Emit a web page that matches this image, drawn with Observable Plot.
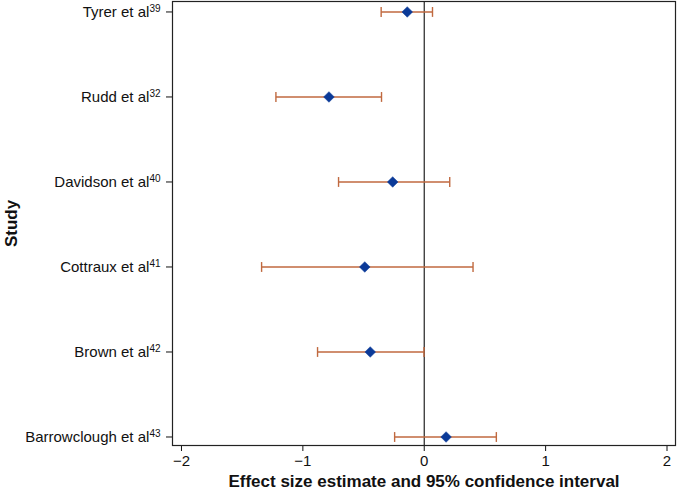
<!DOCTYPE html>
<html>
<head>
<meta charset="utf-8">
<script src="https://cdn.jsdelivr.net/npm/d3@7"></script>
<script src="https://cdn.jsdelivr.net/npm/@observablehq/plot@0.6"></script>
<style>
  html, body { margin: 0; padding: 0; background: #fff; }
  #chart svg { font-family: "Liberation Sans", Arial, sans-serif; }
  #chart [aria-label="x-axis label"] text,
  #chart [aria-label="y-axis label"] text { font-weight: bold; font-size: 17px; }
</style>
</head>
<body>
<div id="chart"></div>
<script>
const studies = ["Tyrer et al", "Rudd et al", "Davidson et al", "Cottraux et al", "Brown et al", "Barrowclough et al"];
const refs = ["39", "32", "40", "41", "42", "43"];
const estimate = [-0.14, -0.785, -0.26, -0.49, -0.445, 0.18];
const lower = [-0.355, -1.222, -0.706, -1.34, -0.879, -0.244];
const upper = [0.068, -0.352, 0.21, 0.402, -0.002, 0.594];
const xTicks = [-2, -1, 0, 1, 2];

const data = studies.map((s, i) => ({i, study: s, ref: refs[i], est: estimate[i], lo: lower[i], hi: upper[i]}));
const capHalf = 0.058;
const ciColor = "#c0693f";
const ptColor = "#0b3a98";

const chart = Plot.plot({
  width: 677,
  height: 497,
  marginLeft: 172,
  marginRight: 2,
  marginTop: 1,
  marginBottom: 52,
  style: {fontSize: "15px", fontFamily: "Liberation Sans, Arial, sans-serif", color: "#111"},
  x: {domain: [-2.074, 2.07], ticks: xTicks, tickFormat: d => d < 0 ? "\u2212" + Math.abs(d) : String(d), label: "Effect size estimate and 95% confidence interval", labelArrow: false, labelAnchor: "center", labelOffset: 41, tickSize: 6, tickPadding: 4},
  y: {domain: [-0.123, 5.1], reverse: true, ticks: studies.map((s, i) => i), tickFormat: i => studies[i], label: "Study", labelArrow: false, labelAnchor: "center", labelOffset: 168, tickSize: 6, tickPadding: 6},
  marks: [
    Plot.frame({stroke: "#222", strokeWidth: 1.2}),
    Plot.ruleX([0], {stroke: "#222", strokeWidth: 1.2}),
    Plot.link(data, {x1: "lo", x2: "hi", y1: "i", y2: "i", stroke: ciColor, strokeWidth: 1.4}),
    Plot.link(data, {x1: "lo", x2: "lo", y1: d => d.i - capHalf, y2: d => d.i + capHalf, stroke: ciColor, strokeWidth: 1.4}),
    Plot.link(data, {x1: "hi", x2: "hi", y1: d => d.i - capHalf, y2: d => d.i + capHalf, stroke: ciColor, strokeWidth: 1.4}),
    Plot.dot(data, {x: "est", y: "i", symbol: "diamond2", r: 4.8, fill: ptColor, stroke: ptColor, strokeWidth: 0.5})
  ]
});

// remove any direction arrows from axis labels
chart.querySelectorAll('[aria-label="x-axis label"] text, [aria-label="y-axis label"] text').forEach(t => {
  t.textContent = t.textContent.replace(/[\u2190-\u2193]/g, "").trim();
});

// add superscript reference numbers to the y tick labels
chart.querySelectorAll('[aria-label="y-axis tick label"] text').forEach(t => {
  const name = t.textContent;
  const idx = studies.indexOf(name);
  if (idx < 0) return;
  t.textContent = name;
  const ts = document.createElementNS("http://www.w3.org/2000/svg", "tspan");
  ts.setAttribute("dy", "-0.45em");
  ts.setAttribute("font-size", "10px");
  ts.textContent = refs[idx];
  t.appendChild(ts);
});

document.getElementById("chart").appendChild(chart);
</script>
</body>
</html>
